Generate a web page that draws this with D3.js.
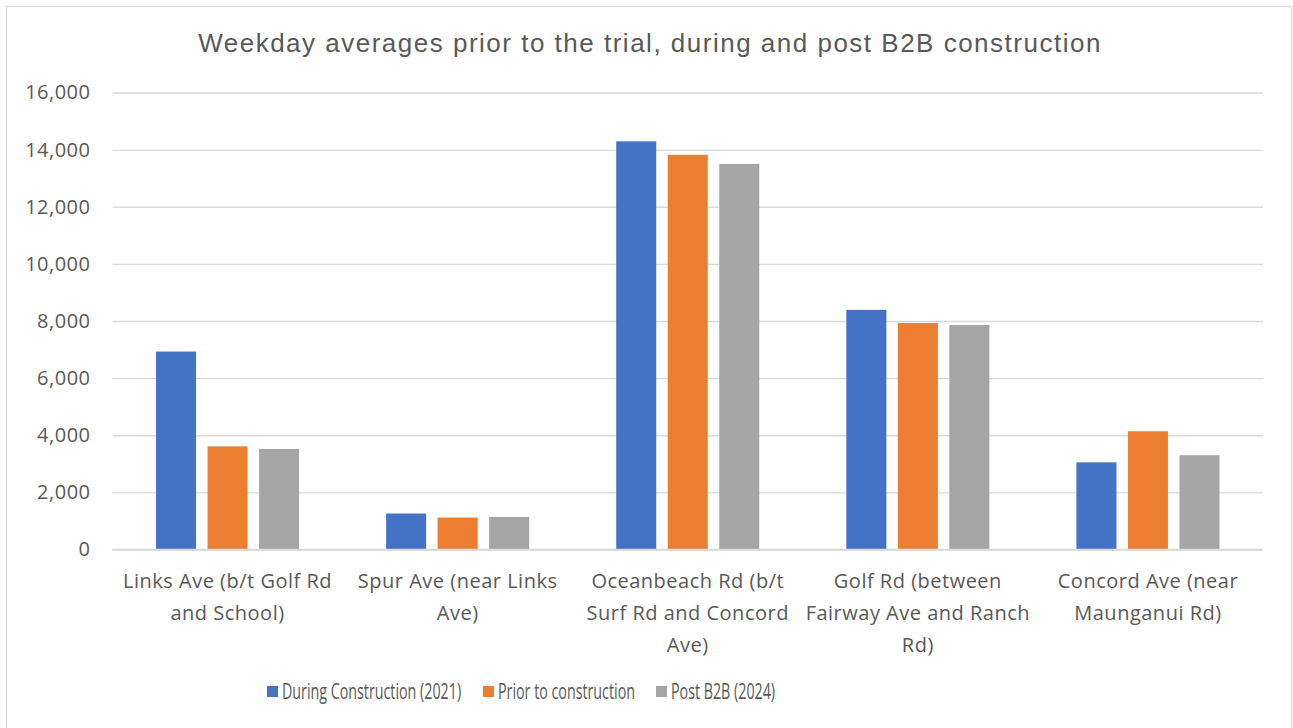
<!DOCTYPE html>
<html>
<head>
<meta charset="utf-8">
<script src="https://cdn.jsdelivr.net/npm/d3@7"></script>
<style>
  body { margin: 0; background: #fff; }
  text { fill: #595959; }
</style>
</head>
<body>
<div id="chart"></div>
<script>
(function() {
  // data
  var categories = ['Links Ave', 'Spur Ave', 'Oceanbeach Rd', 'Golf Rd', 'Concord Ave']
  var categoryLines = [
    ['Links Ave (b/t Golf Rd', 'and School)'],
    ['Spur Ave (near Links', 'Ave)'],
    ['Oceanbeach Rd (b/t', 'Surf Rd and Concord', 'Ave)'],
    ['Golf Rd (between', 'Fairway Ave and Ranch', 'Rd)'],
    ['Concord Ave (near', 'Maunganui Rd)']
  ]
  var seriesNames = ['During Construction (2021)', 'Prior to construction', 'Post B2B (2024)']
  var during = [6930, 1260, 14290, 8390, 3050]
  var prior = [3610, 1120, 13820, 7930, 4140]
  var post = [3520, 1140, 13500, 7860, 3300]
  var yTicks = [0, 2000, 4000, 6000, 8000, 10000, 12000, 14000, 16000]

  var W = 1293, H = 728
  var margin = {top: 92.5, right: 30, bottom: 178.5, left: 112.5}
  var width = 1263 - margin.left
  var height = 549.5 - margin.top

  var svg = d3.select('#chart').append('svg')
    .attr('width', W)
    .attr('height', H)

  // outer frame
  svg.append('rect')
    .attr('x', 6.5).attr('y', 6.5)
    .attr('width', 1285).attr('height', 730)
    .attr('fill', 'none')
    .attr('stroke', '#d9d9d9')
    .attr('stroke-width', 1.3)

  svg.append('text')
    .attr('x', 650)
    .attr('y', 52)
    .attr('text-anchor', 'middle')
    .style('font-family', '"Liberation Sans", Arial, sans-serif')
    .style('font-size', '26px')
    .style('letter-spacing', '1.5px')
    .text('Weekday averages prior to the trial, during and post B2B construction')

  var g = svg.append('g')
    .attr('transform', 'translate(' + margin.left + ',' + margin.top + ')')

  var xScale = d3.scaleBand().domain(categories).range([0, width]).padding(0)
  var seriesScale = d3.scaleBand().domain(seriesNames)
    .range([0, xScale.bandwidth()])
    .paddingInner(0.223)
    .paddingOuter(0.845)
  var yScale = d3.scaleLinear().domain([0, 16000]).range([height, 0])
  var colorScale = d3.scaleOrdinal().domain(seriesNames).range(['#4472C4', '#ED7D31', '#A5A5A5'])

  // gridlines
  var yAxis = d3.axisLeft(yScale)
    .tickValues(yTicks)
    .tickSize(-width)
    .tickPadding(22)
    .tickFormat(d3.format(','))
  var yg = g.append('g').attr('class', 'axis axis-y').call(yAxis)
  yg.select('.domain').remove()
  yg.selectAll('line').attr('stroke', '#d9d9d9').attr('stroke-width', 1.4)
  yg.selectAll('text')
    .style('font-family', '"Open Sans", sans-serif')
    .style('font-size', '20px')
    .style('letter-spacing', '0.5px')
    .attr('fill', '#595959')

  var rows = categories.map(function(c, i) {
    return {category: c, values: [during[i], prior[i], post[i]]}
  })

  g.append('g').attr('class', 'bars')
    .selectAll('.group')
    .data(rows)
    .enter().append('g')
    .attr('class', 'group')
    .attr('transform', d => 'translate(' + xScale(d.category) + ',0)')
    .selectAll('rect')
    .data(d => d.values.map((v, j) => ({series: seriesNames[j], value: v})))
    .enter().append('rect')
    .attr('x', d => seriesScale(d.series))
    .attr('y', d => yScale(d.value))
    .attr('width', seriesScale.bandwidth())
    .attr('height', d => height - yScale(d.value))
    .attr('fill', d => colorScale(d.series))

  // baseline
  g.append('line')
    .attr('x1', 0).attr('x2', width)
    .attr('y1', height).attr('y2', height)
    .attr('stroke', '#d9d9d9')
    .attr('stroke-width', 1.4)

  // category labels, wrapped as in the reference
  var xLabels = g.append('g').attr('class', 'axis axis-x')
    .selectAll('text')
    .data(categories)
    .enter().append('text')
    .attr('x', d => xScale(d) + xScale.bandwidth() / 2)
    .attr('y', height + 38)
    .attr('text-anchor', 'middle')
    .style('font-family', '"Open Sans", sans-serif')
    .style('font-size', '20px')
    .style('letter-spacing', '0.5px')

  xLabels.selectAll('tspan')
    .data((d, i) => categoryLines[i])
    .enter().append('tspan')
    .attr('x', function() { return d3.select(this.parentNode).attr('x') })
    .attr('dy', (d, i) => i === 0 ? 0 : 32)
    .text(d => d)

  // legend (narrow face in the reference, so the text is squeezed horizontally)
  var legendX = [267, 483, 656]
  var legend = svg.append('g').attr('class', 'legend')
    .selectAll('g')
    .data(seriesNames)
    .enter().append('g')
    .attr('transform', (d, i) => 'translate(' + legendX[i] + ',686)')

  legend.append('rect')
    .attr('width', 11).attr('height', 11)
    .attr('fill', d => colorScale(d))

  legend.append('text')
    .attr('transform', 'translate(15,13) scale(0.68,1)')
    .style('font-family', '"Open Sans", sans-serif')
    .style('font-size', '21px')
    .text(d => d)
})()
</script>
</body>
</html>
